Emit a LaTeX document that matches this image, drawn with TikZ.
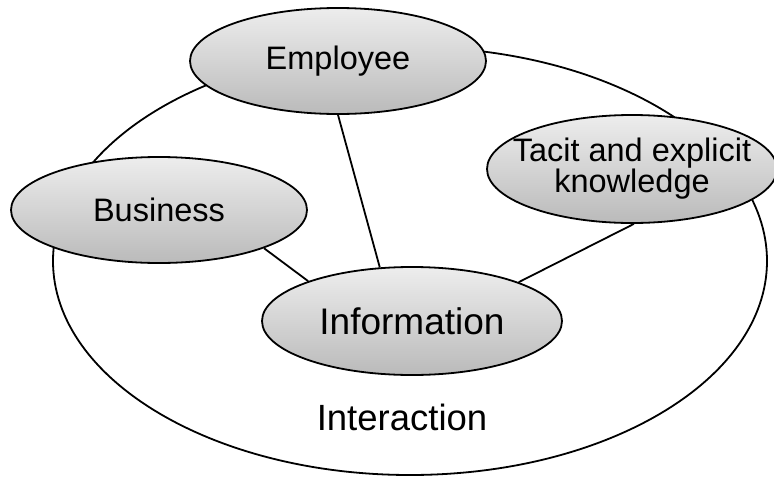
\documentclass[tikz,border=0pt]{standalone}
\usepackage{fontspec}
\setmainfont{Liberation Sans}
\usetikzlibrary{shapes.geometric}

\tikzset{
    bubble/.style={ellipse, draw, line width=1.8, inner xsep=-30pt, inner ysep=0pt,
        top color=black!7, bottom color=black!27, align=center,
        font=\fontsize{32.5}{31}\selectfont},
    link/.style={line width=1.8}
}

\begin{document}
\begin{tikzpicture}[x=1pt, y=-1pt]
        \useasboundingbox (0,0) rectangle (774,477);
        \node[ellipse, draw, line width=1.8, minimum width=714pt, minimum height=428pt] (ring) at (410,261) {};
        \node[font=\fontsize{36.5}{38}\selectfont] (inter) at (402,417) {Interaction};

        \node[bubble, minimum width=296pt, minimum height=106pt] (emp) at (338,61) {Employee};
        \node[bubble, minimum width=290pt, minimum height=108pt] (tacit) at (632,169) {Tacit and explicit\\knowledge};
        \node[bubble, minimum width=296pt, minimum height=106pt] (bus) at (159,210) {Business};
        \node[bubble, minimum width=300pt, minimum height=108pt, font=\fontsize{37}{38}\selectfont] (info) at (412,321) {Information};

        \draw[link] (emp.270) -- (info.121);
        \draw[link] (bus.-20) -- (info.159);
        \draw[link] (tacit.272) -- (info.20);
\end{tikzpicture}
\end{document}
